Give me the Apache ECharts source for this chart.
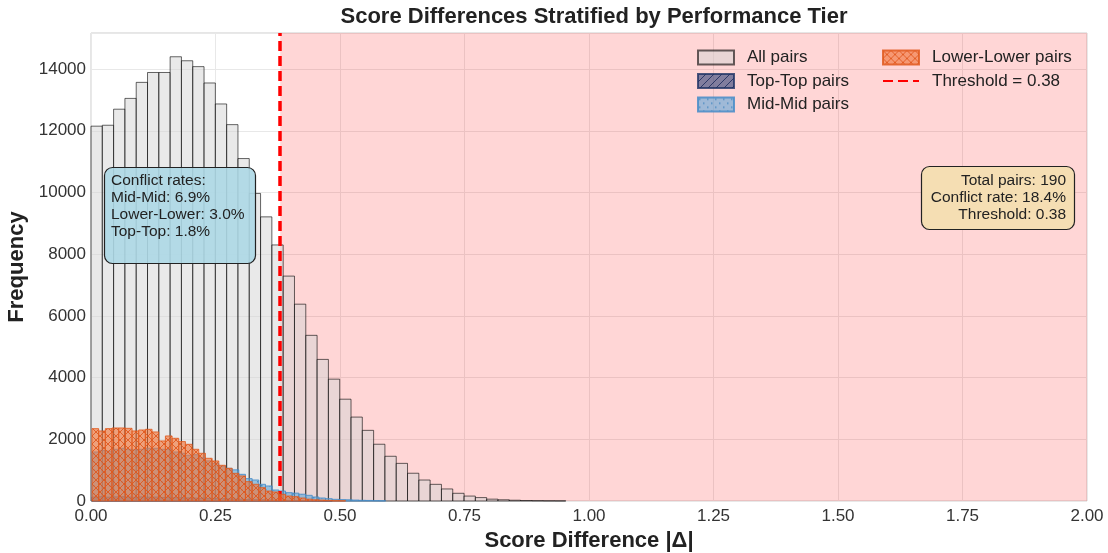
<!DOCTYPE html>
<html>
<head>
<meta charset="utf-8">
<script src="https://cdn.jsdelivr.net/npm/echarts@6/dist/echarts.min.js"></script>
<style>
  html, body { margin: 0; padding: 0; background: #fff; }
  #chart { width: 1108px; height: 553px; }
</style>
</head>
<body>
<div id="chart"></div>
<script>
// 直方图数据 (bin 起点, bin 宽度, 计数)
var allStart = 0.0;
var allWidth = 0.0227;
var allCounts = [12150, 12180, 12700, 13050, 13570, 13890, 13890, 14400, 14270, 14080,
  13550, 12870, 12200, 11100, 9970, 9210, 8300, 7290, 6380, 5370,
  4590, 3950, 3300, 2720, 2290, 1840, 1450, 1220, 900, 680,
  540, 390, 250, 160, 110, 60, 40, 25, 15, 10, 6, 4];

var subStart = 0.002;
var subWidth = 0.0134;
var lowerCounts = [2345, 2270, 2345, 2367, 2367, 2356, 2270, 2302, 2324, 2238,
  1946, 2108, 2032, 1925, 1838, 1676, 1546, 1384, 1297, 1157,
  1059, 897, 811, 627, 541, 432, 324, 292, 216, 162,
  140, 97, 60, 40, 30, 20, 10, 8];
var midCounts = [1589, 1643, 1620, 1676, 1708, 1676, 1660, 1676, 1708, 1708,
  1676, 1676, 1589, 1546, 1481, 1500, 1400, 1300, 1220, 1130,
  1060, 1010, 865, 725, 681, 541, 487, 357, 324, 270,
  255, 220, 184, 130, 97, 75, 54, 45, 40, 30,
  22, 18, 12, 8];
var topCounts = [130, 140, 125, 135, 140, 130, 120, 135, 125, 130,
  115, 120, 110, 105, 100, 95, 90, 85, 80, 75,
  70, 65, 60, 50, 45, 40, 35, 30, 25, 20,
  18, 15, 12, 10, 8, 6];

var threshold = 0.38;

var fontName = 'Liberation Sans, Arial, sans-serif';

function toBins(start, width, counts) {
    var out = [];
    for (var i = 0; i < counts.length; i++) {
        out.push([start + i * width, start + (i + 1) * width, counts[i]]);
    }
    return out;
}

// 填充花纹
function makePattern(bg, fg, kind) {
    var c = document.createElement('canvas');
    c.width = 8; c.height = 8;
    var ctx = c.getContext('2d');
    ctx.fillStyle = bg;
    ctx.fillRect(0, 0, 8, 8);
    ctx.strokeStyle = fg;
    ctx.fillStyle = fg;
    ctx.lineWidth = 1;
    if (kind === 'diag' || kind === 'cross') {
        ctx.beginPath();
        ctx.moveTo(0, 8); ctx.lineTo(8, 0);
        ctx.moveTo(-4, 4); ctx.lineTo(4, -4);
        ctx.moveTo(4, 12); ctx.lineTo(12, 4);
        ctx.stroke();
    }
    if (kind === 'cross') {
        ctx.beginPath();
        ctx.moveTo(0, 0); ctx.lineTo(8, 8);
        ctx.moveTo(-4, 4); ctx.lineTo(4, 12);
        ctx.moveTo(4, -4); ctx.lineTo(12, 4);
        ctx.stroke();
    }
    if (kind === 'dots') {
        ctx.fillRect(1, 1, 1.5, 1.5);
        ctx.fillRect(5, 5, 1.5, 1.5);
    }
    return { image: c, repeat: 'repeat' };
}

function histItem(params, api) {
    var p0 = api.coord([api.value(0), api.value(2)]);
    var p1 = api.coord([api.value(1), 0]);
    return {
        type: 'rect',
        shape: { x: p0[0], y: p0[1], width: p1[0] - p0[0], height: p1[1] - p0[1] },
        style: api.style()
    };
}

var myChart = echarts.init(document.getElementById('chart'));

var topPattern = makePattern('rgba(45,65,120,0.6)', 'rgba(25,40,90,0.8)', 'diag');
var midPattern = makePattern('rgba(95,165,215,0.6)', 'rgba(60,130,190,0.8)', 'dots');
var lowPattern = makePattern('rgba(240,115,55,0.62)', 'rgba(225,85,25,0.85)', 'cross');

var legendText = { fontFamily: fontName, fontSize: 17, color: '#222', lineHeight: 17, padding: [0, 0, 0, 8] };

var option = {
    animation: false,
    backgroundColor: '#fff',
    title: {
        text: 'Score Differences Stratified by Performance Tier',
        left: 589, top: 1, textAlign: 'center',
        textStyle: { fontFamily: fontName, fontSize: 22, fontWeight: 'bold', color: '#222' }
    },
    grid: {
        left: 91, right: 21, top: 33, bottom: 52,
        outerBoundsMode: 'none',
        show: true, borderColor: '#cccccc', borderWidth: 1, backgroundColor: '#fff'
    },
    legend: [{
        data: [{ name: 'All pairs', icon: 'rect' }, { name: 'Top-Top pairs', icon: 'rect' }, { name: 'Mid-Mid pairs', icon: 'rect' }],
        orient: 'vertical', left: 697, top: 49, padding: 0,
        itemWidth: 36, itemHeight: 14, itemGap: 6.5,
        textStyle: legendText
    }, {
        data: [{ name: 'Lower-Lower pairs', icon: 'rect' },
               { name: 'Threshold = 0.38', itemStyle: { opacity: 0 } }],
        orient: 'vertical', left: 882, top: 49, padding: 0,
        itemWidth: 36, itemHeight: 14, itemGap: 6.5,
        textStyle: legendText
    }],
    xAxis: {
        type: 'value', min: 0, max: 2, interval: 0.25,
        name: 'Score Difference |Δ|', nameLocation: 'middle', nameGap: 24,
        nameTextStyle: { fontFamily: fontName, fontSize: 22, fontWeight: 'bold', color: '#222' },
        axisLine: { show: false }, axisTick: { show: false },
        axisLabel: {
            fontFamily: fontName, fontSize: 17, color: '#333', margin: 7,
            formatter: function (v) { return v.toFixed(2); }
        },
        splitLine: { show: true, lineStyle: { color: '#e8e8e8', width: 1 } }
    },
    yAxis: {
        type: 'value', min: 0, max: 15170, interval: 2000,
        name: 'Frequency', nameLocation: 'middle', nameGap: 57,
        nameTextStyle: { fontFamily: fontName, fontSize: 22, fontWeight: 'bold', color: '#222' },
        axisLine: { show: false }, axisTick: { show: false },
        axisLabel: {
            fontFamily: fontName, fontSize: 17, color: '#333', margin: 5, showMaxLabel: false,
            formatter: function (v) { return String(v); }
        },
        splitLine: { show: true, lineStyle: { color: '#e8e8e8', width: 1 } }
    },
    series: [
        {
            name: 'shade', type: 'line', data: [], z: 1, silent: true,
            markArea: {
                silent: true,
                itemStyle: { color: 'rgba(255,0,0,0.16)' },
                data: [[{ xAxis: threshold }, { xAxis: 2 }]]
            }
        },
        {
            name: 'All pairs', type: 'custom', z: 2,
            renderItem: histItem,
            encode: { x: [0, 1], y: 2 },
            itemStyle: { color: 'rgba(211,211,211,0.5)', borderColor: 'rgba(0,0,0,0.6)', borderWidth: 1 },
            data: toBins(allStart, allWidth, allCounts)
        },
        {
            name: 'Top-Top pairs', type: 'custom', z: 3,
            renderItem: histItem,
            encode: { x: [0, 1], y: 2 },
            itemStyle: { color: topPattern, borderColor: 'rgba(30,50,100,0.8)', borderWidth: 1 },
            data: toBins(subStart, subWidth, topCounts)
        },
        {
            name: 'Mid-Mid pairs', type: 'custom', z: 4,
            renderItem: histItem,
            encode: { x: [0, 1], y: 2 },
            itemStyle: { color: midPattern, borderColor: 'rgba(70,140,200,0.85)', borderWidth: 1 },
            data: toBins(subStart, subWidth, midCounts)
        },
        {
            name: 'Lower-Lower pairs', type: 'custom', z: 5,
            renderItem: histItem,
            encode: { x: [0, 1], y: 2 },
            itemStyle: { color: lowPattern, borderColor: 'rgba(225,90,30,0.85)', borderWidth: 1 },
            data: toBins(subStart, subWidth, lowerCounts)
        },
        {
            name: 'Threshold = 0.38', type: 'line', data: [], z: 6,
            symbol: 'none', showSymbol: false, color: '#ff0000',
            lineStyle: { color: '#ff0000', width: 3, type: [10, 5] },
            markLine: {
                silent: true, symbol: 'none', label: { show: false },
                emphasis: { disabled: true },
                lineStyle: { color: '#ff0000', width: 3.5, type: [10, 5], opacity: 1 },
                data: [{ xAxis: threshold }]
            }
        }
    ],
    graphic: [
        // 左侧注释框
        {
            type: 'rect', z: 100,
            shape: { x: 104.5, y: 167.5, width: 151, height: 96, r: 8 },
            style: { fill: 'rgba(173,216,230,0.9)', stroke: '#222', lineWidth: 1.2 }
        },
        {
            type: 'text', z: 101, x: 111, y: 172,
            style: {
                text: 'Conflict rates:\nMid-Mid: 6.9%\nLower-Lower: 3.0%\nTop-Top: 1.8%',
                font: '15.5px ' + fontName, fill: '#222', lineHeight: 17,
                align: 'left', verticalAlign: 'top'
            }
        },
        // 右侧注释框
        {
            type: 'rect', z: 100,
            shape: { x: 921.5, y: 166.5, width: 153, height: 63, r: 8 },
            style: { fill: '#f5deb3', stroke: '#222', lineWidth: 1.2 }
        },
        {
            type: 'text', z: 101, x: 1066, y: 172,
            style: {
                text: 'Total pairs: 190\nConflict rate: 18.4%\nThreshold: 0.38',
                font: '15.5px ' + fontName, fill: '#222', lineHeight: 17,
                align: 'right', verticalAlign: 'top'
            }
        }
    ]
};

myChart.setOption(option);
</script>
</body>
</html>
